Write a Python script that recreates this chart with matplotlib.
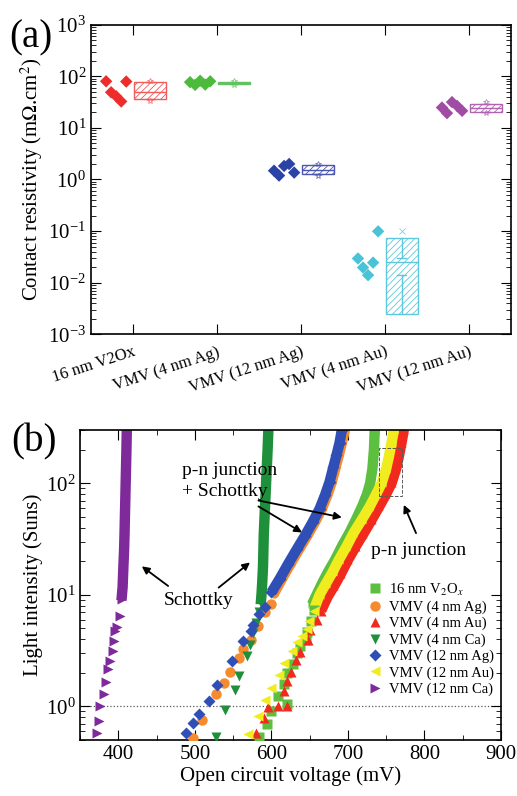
import numpy as np
import matplotlib
matplotlib.use('Agg')
import matplotlib.pyplot as plt
from matplotlib.patches import Rectangle
from matplotlib.ticker import LogLocator, NullFormatter, MultipleLocator

plt.rcParams['font.family'] = ['Liberation Serif', 'DejaVu Serif']
plt.rcParams['mathtext.fontset'] = 'stix'
plt.rcParams['hatch.linewidth'] = 0.6

# ---------------- panel (a) data ----------------
groups = ['16 nm V2Ox', 'VMV (4 nm Ag)', 'VMV (12 nm Ag)', 'VMV (4 nm Au)', 'VMV (12 nm Au)']
pts_v2ox = [80, 49, 41, 32.5, 79]
pts_4ag = [77, 68, 82, 69, 80]
pts_12ag = [1.48, 1.19, 1.83, 2.0, 1.36]
pts_4au = [0.0295, 0.0197, 0.014, 0.0245, 0.099]
pts_12au = [24.8, 19.3, 31.6, 26.7, 21.4]

box_q1 = [36, 71, 1.26, 0.0025, 20]
box_med = [50, 74, 1.5, 0.0247, 24]
box_q3 = [79, 77, 1.87, 0.072, 28.9]
box_wlo = [36, 71, 1.26, 0.014, 20]
box_whi = [79, 77, 1.87, 0.0295, 28.9]
box_fliers = [[33, 82], [68, 80], [1.19, 2.0], [0.1], [19.3, 31.6]]

pt_colors = ['#ee2c2c', '#4cbb3c', '#2b43a6', '#4ac3d6', '#a24ba4']
box_colors = ['#f05a5a', '#62c262', '#4a56b0', '#5ec8dc', '#b064b0']

# ---------------- panel (b) data ----------------
# (voc in mV, intensity in suns): sparse low-intensity points, dense high-intensity band
v2ox_v = [584, 594, 600, 620, 609, 616, 621, 628, 633, 637, 645, 646, 652, 656]
v2ox_s = [0.53, 0.69, 0.91, 1.04, 1.24, 1.6, 2.0, 2.4, 3.0, 3.5, 3.9, 4.6, 5.8, 7.3]
v2ox_dv = [653, 659, 667, 675, 683, 693, 702, 711, 719, 725, 729, 732, 734, 735]
v2ox_ds = [8.2, 10, 13, 16.5, 20.5, 28, 36, 48, 63, 80, 100, 135, 200, 300]

ag4_v = [497, 509, 528, 538, 546, 557, 563, 573, 583, 592, 600]
ag4_s = [0.52, 0.75, 1.28, 1.63, 2.05, 2.74, 3.26, 3.92, 5.3, 6.95, 8.3]
ag4_dv = [603, 614, 625, 636, 647, 657, 666, 673, 679, 684, 688, 692, 696]
ag4_ds = [10.2, 14, 19, 25.5, 34, 45, 59, 78, 103, 140, 178, 230, 300]

au4_v = [580, 590, 596, 608, 621, 616, 621, 626, 632, 637, 648, 651, 660, 665]
au4_s = [0.58, 0.79, 0.99, 1.0, 1.0, 1.37, 1.7, 2.05, 2.6, 3.1, 3.9, 4.8, 5.9, 7.2]
au4_dv = [665, 673, 682, 691, 700, 710, 720, 731, 741, 750, 757, 763, 767, 770, 773]
au4_ds = [7.2, 9.5, 12, 15.5, 20.5, 27, 35, 47, 62, 80, 100, 135, 180, 230, 300]

ca4_v = [528, 539, 552, 557, 568, 572, 576, 580, 584]
ca4_s = [0.53, 0.92, 1.39, 1.87, 2.84, 3.54, 4.5, 5.6, 7.0]
ca4_dv = [586, 587, 588, 589, 589.5, 590, 591, 592, 593, 594, 595, 596]
ca4_ds = [8.2, 10, 13, 18, 25, 35, 50, 70, 100, 140, 200, 300]

ag12_v = [489, 498, 505, 518, 529, 548, 563, 573, 576, 584, 592]
ag12_s = [0.58, 0.71, 0.86, 1.12, 1.56, 2.56, 3.87, 4.76, 5.4, 6.7, 7.7]
ag12_dv = [600, 611, 622, 633, 644, 654, 663, 670, 676, 681, 685, 689, 692]
ag12_ds = [10.5, 14, 19, 25.5, 34, 45, 59, 78, 103, 140, 178, 230, 300]

au12_v = [569, 582, 591, 600, 610, 617, 627, 633, 640, 646, 649, 655]
au12_s = [0.56, 0.82, 1.15, 1.46, 1.9, 2.45, 3.15, 3.8, 4.3, 4.9, 5.8, 7.2]
au12_dv = [655, 663, 671, 680, 688, 698, 707, 718, 728, 737, 744, 750, 754, 757, 760]
au12_ds = [7.2, 10, 12.5, 16, 20.5, 27, 35.5, 47, 61, 80, 100, 135, 180, 230, 300]

ca12_v = [372, 375, 376, 381, 384, 387, 389, 393, 394, 396, 398, 402]
ca12_s = [0.58, 0.74, 1.0, 1.28, 1.65, 2.15, 2.56, 3.15, 3.82, 4.76, 5.1, 6.5]
ca12_dv = [404, 405.5, 406.5, 407.5, 408, 408.5, 409, 409.5, 410, 410.5, 411]
ca12_ds = [8.9, 11.7, 17.7, 26, 35, 50, 70, 100, 140, 200, 300]

fig = plt.figure(figsize=(5.17, 7.96), dpi=100)

# ================= (a) =================
ax1 = fig.add_axes([0.176, 0.580, 0.812, 0.389])
all_pts = [pts_v2ox, pts_4ag, pts_12ag, pts_4au, pts_12au]
pos = np.arange(1, len(groups) + 1)
for i, vals in enumerate(all_pts):
    xs = pos[i] + np.linspace(-0.32, -0.08, len(vals))
    ax1.scatter(xs, vals, marker='D', s=40, color=pt_colors[i], edgecolors='none', zorder=3)

stats = []
for i in range(len(groups)):
    stats.append(dict(med=box_med[i], q1=box_q1[i], q3=box_q3[i],
                      whislo=box_wlo[i], whishi=box_whi[i], fliers=box_fliers[i]))
bp = ax1.bxp(stats, positions=pos + 0.2, widths=0.38, patch_artist=True,
             showfliers=True, capwidths=0.1)
for i in range(len(groups)):
    c = box_colors[i]
    bp['boxes'][i].set(facecolor='none', edgecolor=c, hatch='/////', linewidth=1.0)
    bp['medians'][i].set(color=c, linewidth=1.0)
    for ln in bp['whiskers'][2 * i:2 * i + 2] + bp['caps'][2 * i:2 * i + 2]:
        ln.set(color=c, linewidth=1.0)
    bp['fliers'][i].set(marker='x' if i == 3 else '*', markersize=4,
                        markeredgecolor=c, markerfacecolor='none',
                        markeredgewidth=0.6, alpha=0.8)

ax1.set_yscale('log')
ax1.set_ylim(1e-3, 1e3)
ax1.set_xlim(0.5, 5.5)
ax1.set_xticks(pos)
ax1.set_xticklabels(groups, rotation=18, ha='right', rotation_mode='anchor', fontsize=12)
ax1.yaxis.set_major_locator(LogLocator(base=10, numticks=10))
ax1.yaxis.set_minor_locator(LogLocator(base=10, subs=np.arange(2, 10), numticks=20))
ax1.yaxis.set_minor_formatter(NullFormatter())
ax1.tick_params(which='both', direction='in', top=True, right=True, labelsize=15)
ax1.tick_params(axis='x', labelsize=12, length=7, pad=7)
ax1.tick_params(axis='y', which='major', length=7)
ax1.tick_params(axis='y', which='minor', length=3.5)
ax1.set_ylabel('Contact resistivity (m$\\Omega$.cm$^2$)', fontsize=15, labelpad=2)
for sp in ax1.spines.values():
    sp.set_linewidth(1.2)
fig.text(0.018, 0.952, '(a)', fontsize=28, va='center', ha='left')

# ================= (b) =================
ax2 = fig.add_axes([0.155, 0.0704, 0.814, 0.3894])
series = [
    ('16 nm V$_2$O$_x$', 's', '#5dbf3f', v2ox_v, v2ox_s, v2ox_dv, v2ox_ds),
    ('VMV (4 nm Ag)', 'o', '#f58a2e', ag4_v, ag4_s, ag4_dv, ag4_ds),
    ('VMV (4 nm Au)', '^', '#f22a1e', au4_v, au4_s, au4_dv, au4_ds),
    ('VMV (4 nm Ca)', 'v', '#1e8f3a', ca4_v, ca4_s, ca4_dv, ca4_ds),
    ('VMV (12 nm Ag)', 'D', '#2f4fb7', ag12_v, ag12_s, ag12_dv, ag12_ds),
    ('VMV (12 nm Au)', '<', '#f0ec1e', au12_v, au12_s, au12_dv, au12_ds),
    ('VMV (12 nm Ca)', '>', '#7f2a9a', ca12_v, ca12_s, ca12_dv, ca12_ds),
]
for label, mk, c, sv, ss, dv, ds in series:
    ax2.plot(dv, ds, '-', color=c, lw=7.5, solid_capstyle='butt', zorder=2)
    ax2.plot(dv, ds, mk, color=c, ms=6, mec='none', zorder=2)
    ax2.plot(sv, ss, mk, color=c, ms=7.5 if mk != 'D' else 6.5, mec='none',
             ls='none', label=label, zorder=3)

ax2.axhline(1, ls=':', color='0.35', lw=0.9, zorder=1)
ax2.add_patch(Rectangle((741, 77), 29, 128, fill=False, ls='--', lw=0.7,
                        edgecolor='0.35', zorder=4))

arrow = dict(arrowstyle='-|>', color='k', lw=1.3, mutation_scale=11, shrinkA=0, shrinkB=0)
ax2.text(483, 131, 'p-n junction', fontsize=14, ha='left', va='center')
ax2.text(483, 84, '+ Schottky', fontsize=14, ha='left', va='center')
ax2.annotate('', xy=(692, 49.4), xytext=(583, 70), arrowprops=arrow)
ax2.annotate('', xy=(640, 36.2), xytext=(583, 62), arrowprops=arrow)
ax2.text(505, 8.8, 'Schottky', fontsize=14, ha='center', va='center')
ax2.annotate('', xy=(430.6, 18.0), xytext=(465, 12.0), arrowprops=arrow)
ax2.annotate('', xy=(572, 19.5), xytext=(531, 11.6), arrowprops=arrow)
ax2.text(792, 24.9, 'p-n junction', fontsize=14, ha='center', va='center')
ax2.annotate('', xy=(773, 64), xytext=(789, 35.7), arrowprops=arrow)

ax2.set_yscale('log')
ax2.set_xlim(350, 900)
ax2.set_ylim(0.5, 300)
ax2.xaxis.set_major_locator(MultipleLocator(100))
ax2.xaxis.set_minor_locator(MultipleLocator(50))
ax2.yaxis.set_major_locator(LogLocator(base=10, numticks=10))
ax2.yaxis.set_minor_locator(LogLocator(base=10, subs=np.arange(2, 10), numticks=20))
ax2.yaxis.set_minor_formatter(NullFormatter())
ax2.tick_params(which='both', direction='in', top=True, right=True, labelsize=15)
ax2.tick_params(which='major', length=7)
ax2.tick_params(which='minor', length=3.5)
ax2.set_xlabel('Open circuit voltage (mV)', fontsize=15, labelpad=2)
ax2.set_ylabel('Light intensity (Suns)', fontsize=15, labelpad=2)
for sp in ax2.spines.values():
    sp.set_linewidth(1.2)
ax2.legend(loc='upper left', bbox_to_anchor=(0.665, 0.53), frameon=False,
           fontsize=10.5, handletextpad=0.4, labelspacing=0.2, handlelength=1.2,
           borderaxespad=0)
fig.text(0.022, 0.445, '(b)', fontsize=28, va='center', ha='left')

fig.savefig('out.png', dpi=100)
